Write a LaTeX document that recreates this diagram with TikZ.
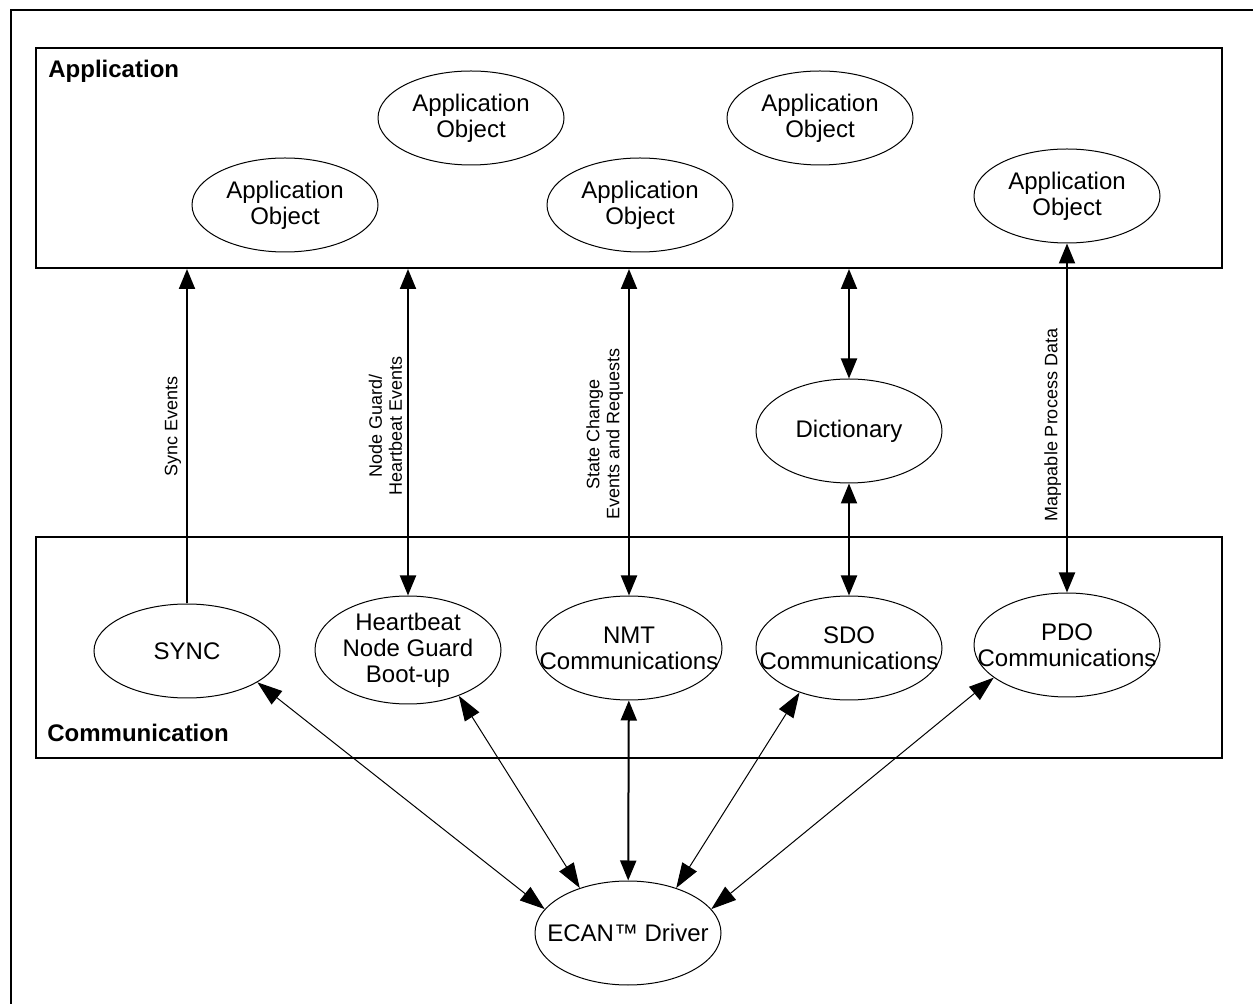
\documentclass[tikz,border=0pt]{standalone}
\usepackage{fontspec}
\setmainfont{Liberation Sans}
\usetikzlibrary{shapes.geometric,arrows.meta}
\begin{document}
\begin{tikzpicture}[x=0.5pt, y=-0.5pt,
	obj/.style={draw, ellipse, line width=0.5pt, minimum width=93pt, minimum height=52pt, inner ysep=0pt, inner xsep=-17pt, align=center, font=\fontsize{12}{13}\selectfont},
	layer/.style={draw, line width=1pt, minimum width=593pt, inner sep=0pt},
	header/.style={anchor=base west, inner sep=0pt, font=\bfseries\fontsize{12}{14}\selectfont},
	flow/.style={line width=1pt, >={Triangle[length=10pt,width=8pt]}},
	diag/.style={line width=0.5pt, >={Triangle[length=12.5pt,width=8.5pt]}},
	sidelabel/.style={rotate=90, anchor=south, align=center, inner sep=2.5pt, font=\fontsize{9}{10}\selectfont}]
		\useasboundingbox (0,0) rectangle (1253,1004);
		% outer frame (runs off the page right and bottom)
		\draw[line width=1pt] (1253,10) -- (11,10) -- (11,1004);

		% Application layer
		\node[layer, minimum height=110pt] (AppBox) at (629,158) {};
		\node[header] (AppTitle) at (48,78) {Application};
		\node[obj, minimum height=47pt] (AppObj1) at (285,205) {Application\\Object};
		\node[obj, minimum height=47pt] (AppObj2) at (471,118) {Application\\Object};
		\node[obj, minimum height=47pt] (AppObj3) at (640,205) {Application\\Object};
		\node[obj, minimum height=47pt] (AppObj4) at (820,118) {Application\\Object};
		\node[obj, minimum height=47pt] (AppObj5) at (1067,196) {Application\\Object};

		\node[obj] (Dictionary) at (849,431) {Dictionary};

		% Communication layer
		\node[layer, minimum height=110.5pt] (CommBox) at (629,647.5) {};
		\node[header] (CommTitle) at (47,742) {Communication};
		\node[obj, minimum height=47pt] (Sync) at (187,651) {SYNC};
		\node[obj, minimum height=54pt] (Heartbeat) at (408,650) {Heartbeat\\Node Guard\\Boot-up};
		\node[obj] (NMT) at (629,648) {NMT\\Communications};
		\node[obj] (SDO) at (849,648) {SDO\\Communications};
		\node[obj] (PDO) at (1067,645) {PDO\\Communications};

		\node[obj] (ECAN) at (628,933) {ECAN™ Driver};

		% between the layers
		\draw[flow, ->] (Sync) -- (Sync |- AppBox.south) node[sidelabel, pos=0.53] {Sync Events};
		\draw[flow, <->] (Heartbeat) -- (Heartbeat |- AppBox.south) node[sidelabel, pos=0.52] {Node Guard/\\Heartbeat Events};
		\draw[flow, <->] (NMT) -- (NMT |- AppBox.south) node[sidelabel, pos=0.494] {State Change\\Events and Requests};
		\draw[flow, <->] (Dictionary) -- (Dictionary |- AppBox.south);
		\draw[flow, <->] (Dictionary) -- (SDO);
		\draw[flow, <->] (PDO) -- (AppObj5) node[sidelabel, pos=0.48] {Mappable Process Data};

		% driver links
		\draw[diag, <->] (Sync.-24) -- (ECAN.164);
		\draw[diag, <->] (Heartbeat.-42) -- (ECAN.137);
		\draw[flow, <->] (NMT) -- (ECAN);
		\draw[diag, <->] (SDO.-138) -- (ECAN.43);
		\draw[diag, <->] (PDO.-156) -- (ECAN.16);
	\end{tikzpicture}
\end{document}
